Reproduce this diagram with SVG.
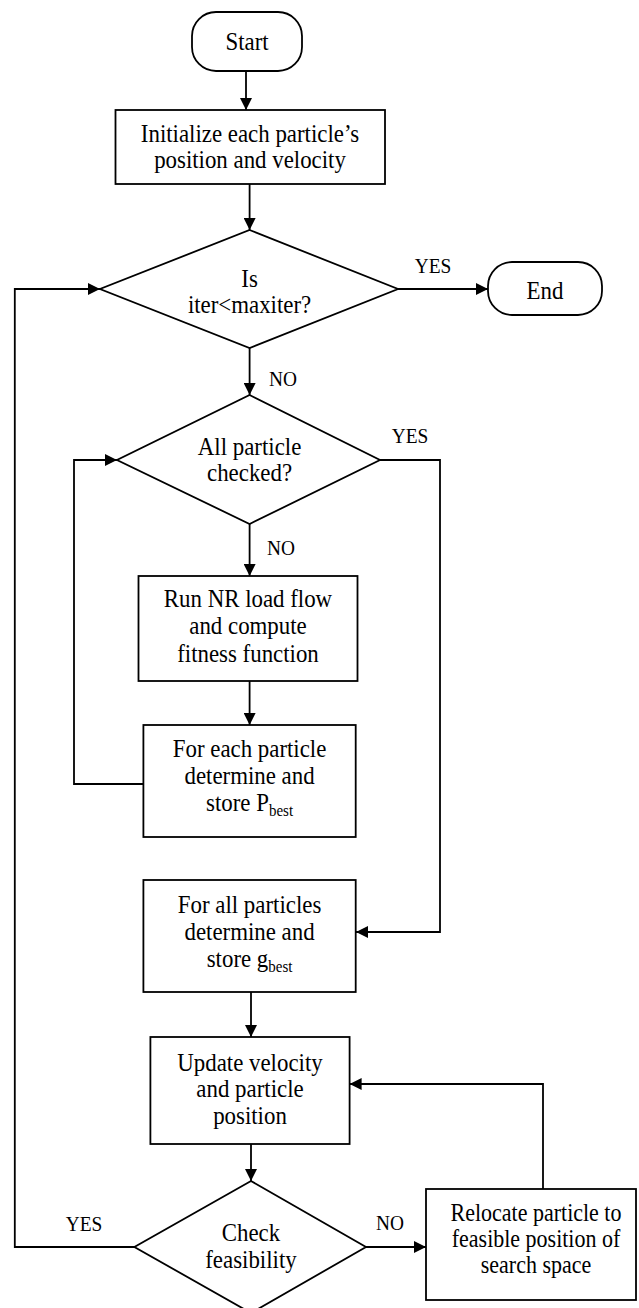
<svg xmlns="http://www.w3.org/2000/svg" width="639" height="1308" viewBox="0 0 639 1308">
<style>
.s{fill:#fff;stroke:#000;stroke-width:1.8}
.c{fill:none;stroke:#000;stroke-width:1.8}
text{font-family:"Liberation Serif","Times New Roman","DejaVu Serif",serif;font-size:26px;fill:#000;text-anchor:middle}
.l{font-size:22px}
.sub{font-size:17px}
.r{font-size:25px}
</style>
<defs>
<marker id="a" markerUnits="userSpaceOnUse" markerWidth="13" markerHeight="12" refX="12" refY="6" orient="auto">
<path d="M0,0 L12,6 L0,12 z" fill="#000"/>
</marker>
</defs>
<rect width="639" height="1308" fill="#fff"/>
<g id="connectors">
<line class="c" x1="246" y1="71" x2="246" y2="110" marker-end="url(#a)"/>
<line class="c" x1="249.6" y1="184" x2="249.6" y2="230" marker-end="url(#a)"/>
<line class="c" x1="398" y1="289" x2="488" y2="289" marker-end="url(#a)"/>
<line class="c" x1="249.6" y1="348" x2="249.6" y2="395" marker-end="url(#a)"/>
<polyline class="c" points="380,460 440,460 440,932 356,932" marker-end="url(#a)"/>
<line class="c" x1="249.6" y1="524" x2="249.6" y2="576" marker-end="url(#a)"/>
<line class="c" x1="249.6" y1="681" x2="249.6" y2="725" marker-end="url(#a)"/>
<polyline class="c" points="143.4,784 74,784 74,460 117,460" marker-end="url(#a)"/>
<line class="c" x1="251" y1="992" x2="251" y2="1037" marker-end="url(#a)"/>
<line class="c" x1="251" y1="1144" x2="251" y2="1181" marker-end="url(#a)"/>
<polyline class="c" points="134.4,1247 14.8,1247 14.8,289 100,289" marker-end="url(#a)"/>
<line class="c" x1="366" y1="1247" x2="426" y2="1247" marker-end="url(#a)"/>
<polyline class="c" points="543,1189 543,1084 349.6,1084" marker-end="url(#a)"/>
<g transform="scale(0.88,1)">
<text class="l" x="492" y="273">YES</text>
<text class="l" x="321.6" y="386">NO</text>
<text class="l" x="465.9" y="443">YES</text>
<text class="l" x="319.3" y="555">NO</text>
<text class="l" x="95.5" y="1231">YES</text>
<text class="l" x="443.2" y="1230">NO</text>
</g>
</g>
<g id="start">
<rect class="s" x="192" y="12" width="110" height="59" rx="24"/>
<text transform="scale(0.88,1)" x="280.7" y="50">Start</text>
</g>
<g id="init">
<rect class="s" x="115.5" y="110" width="269.5" height="74"/>
<g transform="scale(0.88,1)">
<text x="284.1" y="142">Initialize each particle’s</text>
<text x="284.1" y="168">position and velocity</text>
</g>
</g>
<g id="d1">
<polygon class="s" points="249.6,230 398,289 249.6,348 100,289"/>
<g transform="scale(0.88,1)">
<text x="283.6" y="287">Is</text>
<text x="283.6" y="313">iter&lt;maxiter?</text>
</g>
</g>
<g id="end">
<rect class="s" x="488" y="262" width="114" height="53" rx="24"/>
<text transform="scale(0.88,1)" x="619.3" y="299">End</text>
</g>
<g id="d2">
<polygon class="s" points="249.6,395 380,460 249.6,524 117,460"/>
<g transform="scale(0.88,1)">
<text x="283.6" y="455">All particle</text>
<text x="283.6" y="481">checked?</text>
</g>
</g>
<g id="nr">
<rect class="s" x="138.5" y="576" width="219" height="105"/>
<g transform="scale(0.88,1)">
<text x="281.8" y="607">Run NR load flow</text>
<text x="281.8" y="634">and compute</text>
<text x="281.8" y="662">fitness function</text>
</g>
</g>
<g id="pbest">
<rect class="s" x="143.4" y="725" width="212.3" height="112"/>
<g transform="scale(0.88,1)">
<text x="283.6" y="757">For each particle</text>
<text x="283.6" y="784">determine and</text>
<text x="283.6" y="811">store P<tspan class="sub" dy="5">best</tspan></text>
</g>
</g>
<g id="gbest">
<rect class="s" x="143.4" y="880" width="212.3" height="112"/>
<g transform="scale(0.88,1)">
<text x="283.6" y="913">For all particles</text>
<text x="283.6" y="940">determine and</text>
<text x="283.6" y="967">store g<tspan class="sub" dy="5">best</tspan></text>
</g>
</g>
<g id="update">
<rect class="s" x="150.4" y="1037" width="199.2" height="107"/>
<g transform="scale(0.88,1)">
<text x="284.1" y="1071">Update velocity</text>
<text x="284.1" y="1097">and particle</text>
<text x="284.1" y="1124">position</text>
</g>
</g>
<g id="d3">
<polygon class="s" points="251,1181 366,1247 251,1313 134.4,1247"/>
<g transform="scale(0.88,1)">
<text x="285.2" y="1241">Check</text>
<text x="285.2" y="1268">feasibility</text>
</g>
</g>
<g id="relocate">
<rect class="s" x="426" y="1189" width="210" height="111"/>
<g transform="scale(0.88,1)">
<text class="r" x="609.1" y="1221">Relocate particle to</text>
<text class="r" x="609.1" y="1247">feasible position of</text>
<text class="r" x="609.1" y="1273">search space</text>
</g>
</g>
</svg>
